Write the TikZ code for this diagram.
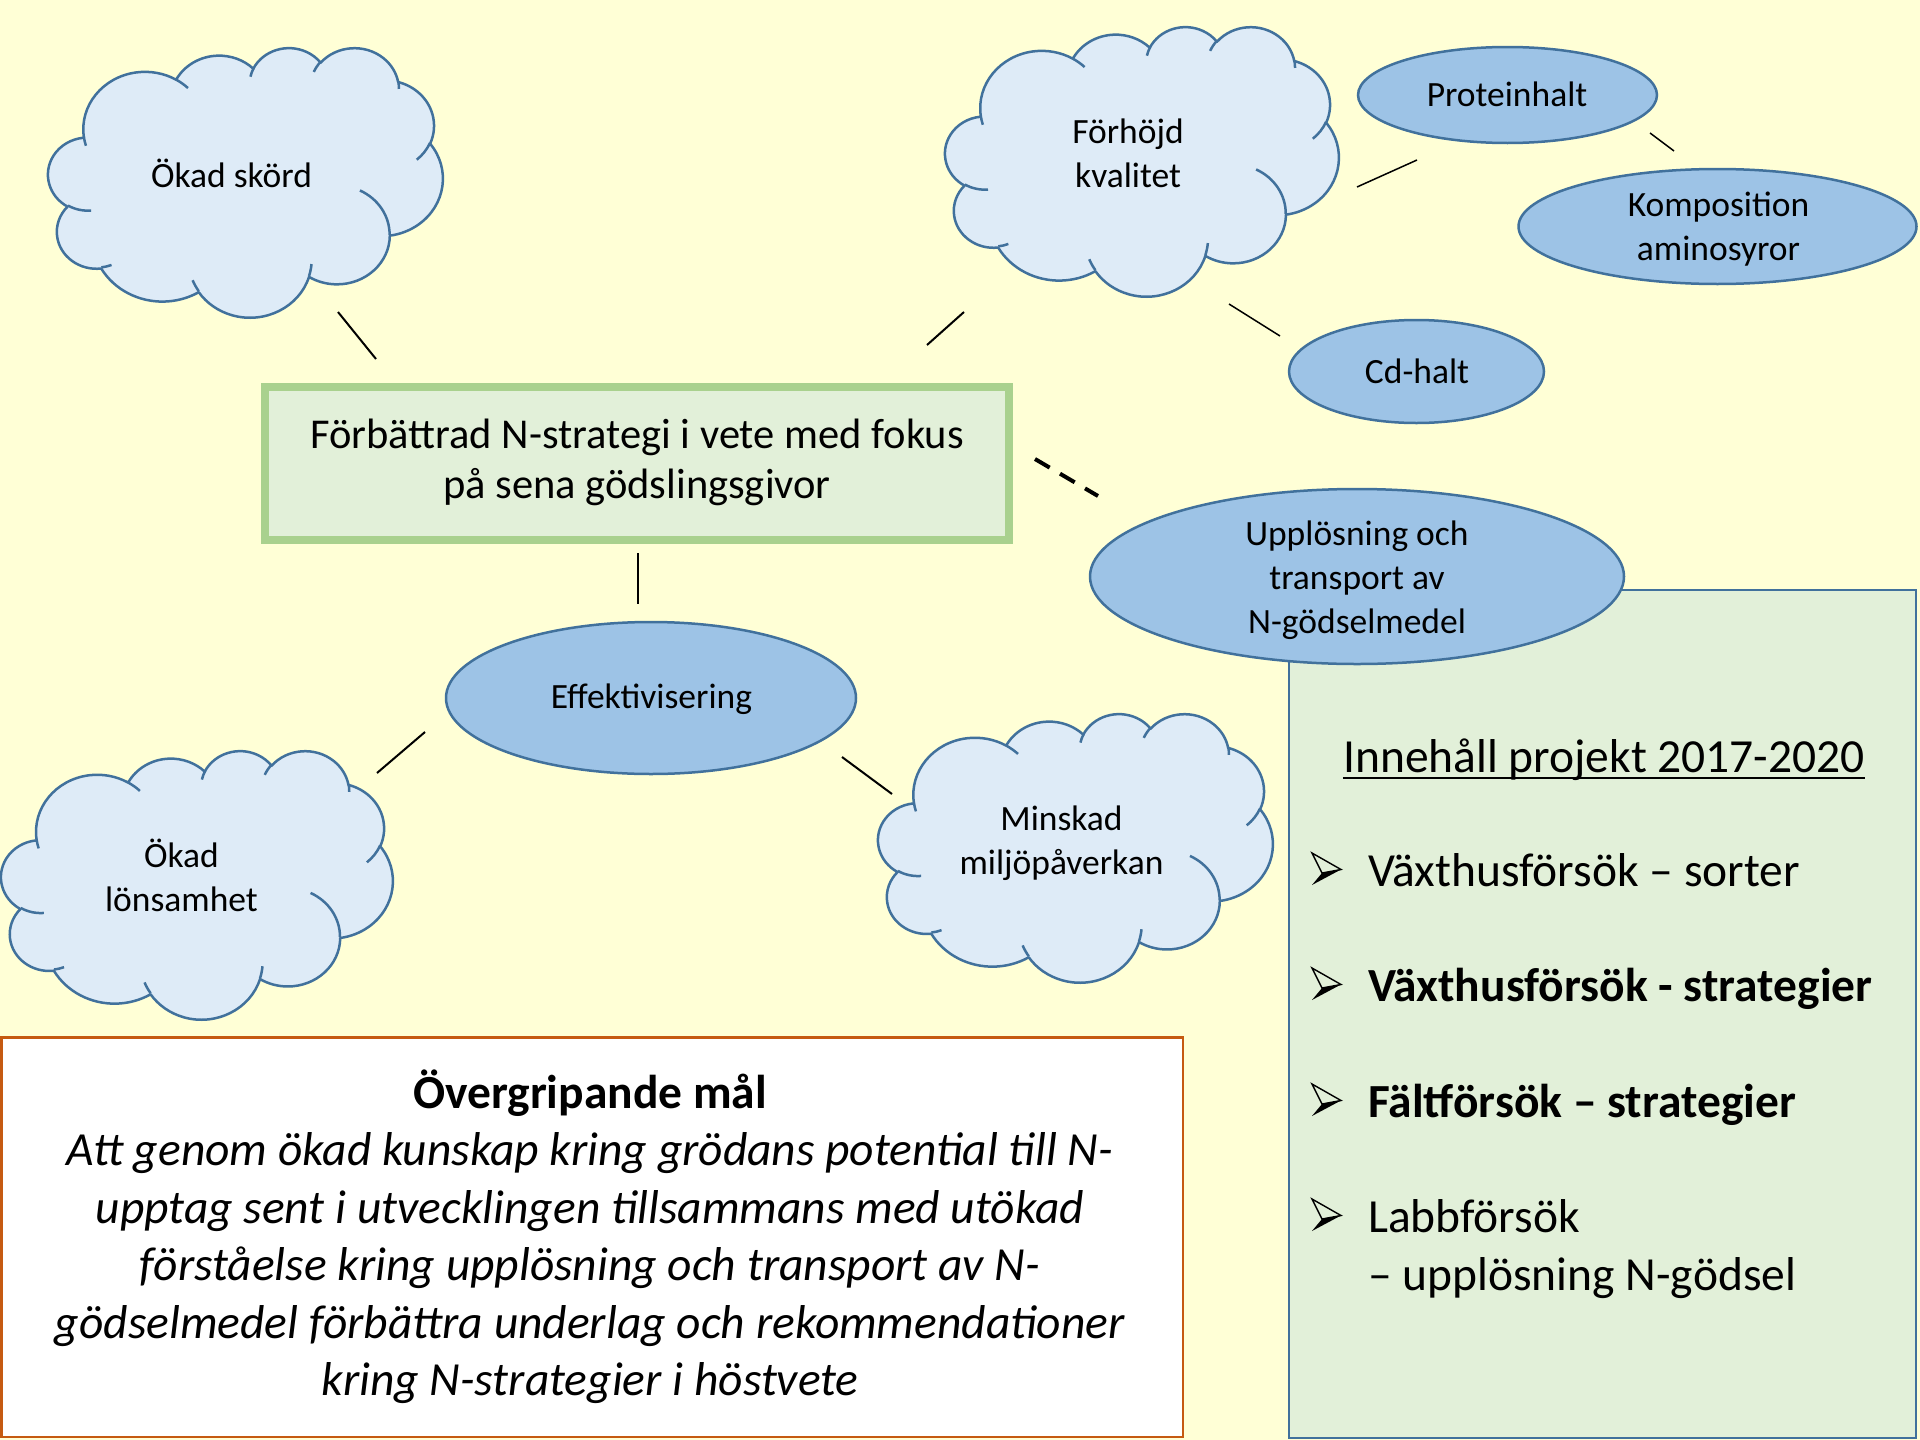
\documentclass[tikz,border=0pt]{standalone}
\usepackage{tikz}
\usepackage{fontspec}
\setmainfont{Carlito}
\usetikzlibrary{shapes.geometric}

\definecolor{bgyellow}{RGB}{255,255,214}
\definecolor{cloudfillc}{RGB}{222,235,247}
\definecolor{edgeblue}{RGB}{65,113,156}
\definecolor{ellfillc}{RGB}{157,195,230}
\definecolor{boxgreen}{RGB}{226,240,217}
\definecolor{boxedge}{RGB}{169,209,142}
\definecolor{goalorange}{RGB}{197,90,17}

% PowerPoint cloud geometry (unit square, y down), angles converted to parametric
\gdef\ppmain{}
\gdef\ppinner{}
\newcommand\ppaddmain[4]{%
  \pgfmathsetmacro\ppa{atan2(#1*sin(#3),#2*cos(#3))}%
  \pgfmathsetmacro\ppb{atan2(#1*sin(#3+#4),#2*cos(#3+#4))}%
  \pgfmathsetmacro\ppd{mod(\ppb-\ppa+720,360)}%
  \xdef\ppmain{\ppmain arc[start angle=\ppa,delta angle=\ppd,x radius=#1,y radius=#2]}%
}
\newcommand\ppaddinner[6]{%
  \pgfmathsetmacro\ppa{atan2(#3*sin(#5),#4*cos(#5))}%
  \pgfmathsetmacro\ppb{atan2(#3*sin(#5+#6),#4*cos(#5+#6))}%
  \pgfmathsetmacro\ppd{mod(\ppb-\ppa+720,360)}%
  \xdef\ppinner{\ppinner (#1,#2) arc[start angle=\ppa,delta angle=\ppd,x radius=#3,y radius=#4]}%
}
\ppaddmain{0.156319}{0.212731}{-190.4875}{123.7805}
\ppaddmain{0.123449}{0.168218}{-144.1024}{89.9452}
\ppaddmain{0.101042}{0.137616}{-145.8079}{99.7230}
\ppaddmain{0.112431}{0.152662}{-130.9861}{117.2417}
\ppaddmain{0.123449}{0.168356}{-78.7089}{109.0269}
\ppaddmain{0.156829}{0.213426}{-46.2673}{130.2690}
\ppaddmain{0.133912}{0.182106}{0.6250}{114.0333}
\ppaddmain{0.156296}{0.213310}{22.4516}{115.1726}
\ppaddmain{0.178704}{0.244051}{66.2426}{75.7110}
\ppaddmain{0.100926}{0.136991}{-274.9421}{146.7356}
\ppaddmain{0.100579}{0.137616}{-246.8285}{152.5189}
\ppaddinner{0.108634}{0.605949}{0.100579}{0.137616}{86.742}{26.4295}
\ppaddinner{0.160370}{0.807847}{0.100926}{0.136991}{73.6105}{11.4475}
\ppaddinner{0.381435}{0.904861}{0.156296}{0.213310}{137.6242}{14.0811}
\ppaddinner{0.667292}{0.804421}{0.156296}{0.213310}{6.4533}{15.9984}
\ppaddinner{0.790023}{0.531343}{0.133912}{0.182106}{-70.2924}{70.9174}
\ppaddinner{0.967546}{0.355417}{0.123449}{0.168356}{30.3180}{27.7515}
\ppaddinner{0.887130}{0.125602}{0.112431}{0.152662}{-13.7443}{14.8509}
\ppaddinner{0.673102}{0.091481}{0.112431}{0.152662}{-149.1815}{18.1926}
\ppaddinner{0.512523}{0.109259}{0.101042}{0.137616}{-163.4943}{17.6864}
\ppaddinner{0.324074}{0.120185}{0.156319}{0.212731}{-66.7070}{12.3194}
\ppaddinner{0.095532}{0.365486}{0.156319}{0.212731}{157.6544}{11.8582}

\tikzset{
  cloudbody/.style={fill=cloudfillc, draw=edgeblue, line width=2.5pt, line join=round},
  cloudinner/.style={draw=edgeblue, line width=2.5pt},
  ellnode/.style={ellipse, draw=edgeblue, fill=ellfillc, line width=2.5pt, inner sep=0pt},
  lbl/.style={inner sep=0pt, align=center, font=\fontsize{35.5}{44}\selectfont},
  conn/.style={draw=black, line width=2pt},
  connthin/.style={draw=black, line width=1.5pt},
  conndash/.style={draw=black, line width=4pt, dash pattern=on 17pt off 12pt},
  listtxt/.style={inner sep=0pt, anchor=base west, font=\fontsize{47.5}{58}\selectfont},
  arrowbullet/.pic={
    \draw[line width=1.4pt, line join=miter] (0,-33) -- (29,-16.5) -- (10,-13) -- cycle;
    \fill[black] (10,-13) -- (29,-16.5) -- (0,-1) -- cycle;
  },
}

% #1 name, #2 left, #3 top, #4 width, #5 height (all px)
\newcommand\ppcloud[5]{%
  \begin{scope}[shift={(#2pt,-#3pt)}, x={(#4pt,0pt)}, y={(0pt,-#5pt)}]
    \path[cloudbody] (0.090278,0.332639) \ppmain -- cycle;
    \path[cloudinner] \ppinner;
    \coordinate (#1) at (0.5,0.5);
  \end{scope}}

\begin{document}
\begin{tikzpicture}[x=1pt,y=-1pt]
\useasboundingbox (0,0) rectangle (1920,1440);
\fill[bgyellow] (0,0) rectangle (1920,1440);

% connector end points
\coordinate (a1) at (338,312);   \coordinate (b1) at (376,359);
\coordinate (a2) at (964,312);   \coordinate (b2) at (927,345);
\coordinate (a3) at (1357,187);  \coordinate (b3) at (1417,160);
\coordinate (a4) at (1650,133);  \coordinate (b4) at (1674,151);
\coordinate (a5) at (1229,304);  \coordinate (b5) at (1280,336);
\coordinate (a6) at (1035,459);  \coordinate (b6) at (1098,496);
\coordinate (a7) at (637.5,553); \coordinate (b7) at (637.5,604);
\coordinate (a8) at (425,732);   \coordinate (b8) at (377,773);
\coordinate (a9) at (842,757);   \coordinate (b9) at (892,794);

\draw[conn] (a1) -- (b1);
\draw[conn] (a2) -- (b2);
\draw[connthin] (a3) -- (b3);
\draw[connthin] (a4) -- (b4);
\draw[connthin] (a5) -- (b5);
\draw[conndash] (a6) -- (b6);
\draw[conn] (a7) -- (b7);
\draw[conn] (a8) -- (b8);
\draw[conn] (a9) -- (b9);

% central box
\node[draw=boxedge, fill=boxgreen, line width=8pt, minimum width=744pt, minimum height=153pt,
      inner sep=0pt, align=center, font=\fontsize{42.5}{50}\selectfont] (central) at (637,463.5)
  {Förbättrad N-strategi i vete med fokus\strut\\på sena gödslingsgivor\strut};

% clouds
\ppcloud{skord}{48.25}{47.25}{394.5}{269.5}
\ppcloud{forhojd}{945.25}{26.25}{393.5}{269.5}
\ppcloud{lonsam}{1.25}{750.25}{391.5}{268.5}
\ppcloud{minskad}{878.25}{713.25}{394.5}{268.5}

\node[lbl, anchor=base] (skordtxt) at (231.5,187) {Ökad skörd};
\node[lbl] (forhojdtxt) at (1128,156.2) {Förhöjd\strut\\kvalitet\strut};
\node[lbl] (lonsamtxt) at (181.5,880.2) {Ökad\strut\\lönsamhet\strut};
\node[lbl] (minskadtxt) at (1061.5,843.2) {Minskad\strut\\miljöpåverkan\strut};

% ellipses
\node[ellnode, minimum width=299pt, minimum height=96pt] (prot) at (1507.5,95) {};
\node[ellnode, minimum width=398pt, minimum height=115pt] (komp) at (1717.5,226.5) {};
\node[ellnode, minimum width=255pt, minimum height=103pt] (cd) at (1416.5,371.5) {};
\node[ellnode, minimum width=410pt, minimum height=152pt] (eff) at (651,698) {};

\node[lbl, anchor=base] at (1507,106) {Proteinhalt};
\node[lbl] at (1718.5,229.2) {Komposition\strut\\aminosyror\strut};
\node[lbl, anchor=base] at (1417,383) {Cd-halt};
\node[lbl, anchor=base] at (651.5,708) {Effektivisering};

% content box
\node[draw=edgeblue, fill=boxgreen, line width=2pt, minimum width=627pt, minimum height=848pt,
      inner sep=0pt] (content) at (1602.5,1014) {};

% dissolution ellipse (on top of the box)
\node[ellnode, minimum width=534pt, minimum height=175pt] (upp) at (1357,576.5) {};
\node[lbl] at (1357,581) {Upplösning och\strut\\transport av\\N-gödselmedel\strut};

% content text
\node[inner sep=0pt, anchor=base, font=\fontsize{47.5}{58}\selectfont] (ctitle) at (1604,772)
  {Innehåll projekt 2017-2020};
\draw[line width=2pt] ([yshift=-6pt]ctitle.base west) -- ([yshift=-6pt]ctitle.base east);

\pic at (1312,886) {arrowbullet};
\node[listtxt] at (1368,886) {Växthusförsök – sorter};
\pic at (1312,1001) {arrowbullet};
\node[listtxt] at (1368,1001) {\bfseries Växthusförsök - strategier};
\pic at (1312,1117) {arrowbullet};
\node[listtxt] at (1368,1117) {\bfseries Fältförsök – strategier};
\pic at (1312,1232) {arrowbullet};
\node[inner sep=0pt, anchor=west, align=left, font=\fontsize{47.5}{58}\selectfont] at (1368,1249.4)
  {Labbförsök\strut\\– upplösning N-gödsel\strut};

% goal box
\node[draw=goalorange, fill=white, line width=2.5pt, minimum width=1181.5pt, minimum height=399.5pt,
      inner sep=0pt] (goal) at (592,1237) {};
\node[inner sep=0pt, align=center, font=\fontsize{47.5}{57.5}\selectfont] (goaltxt) at (590,1240.25)
  {\textbf{Övergripande mål}\strut\\
   \textit{Att genom ökad kunskap kring grödans potential till N-}\\
   \textit{upptag sent i utvecklingen tillsammans med utökad}\\
   \textit{förståelse kring upplösning och transport av N-}\\
   \textit{gödselmedel förbättra underlag och rekommendationer}\\
   \textit{kring N-strategier i höstvete}\strut};
\end{tikzpicture}
\end{document}
